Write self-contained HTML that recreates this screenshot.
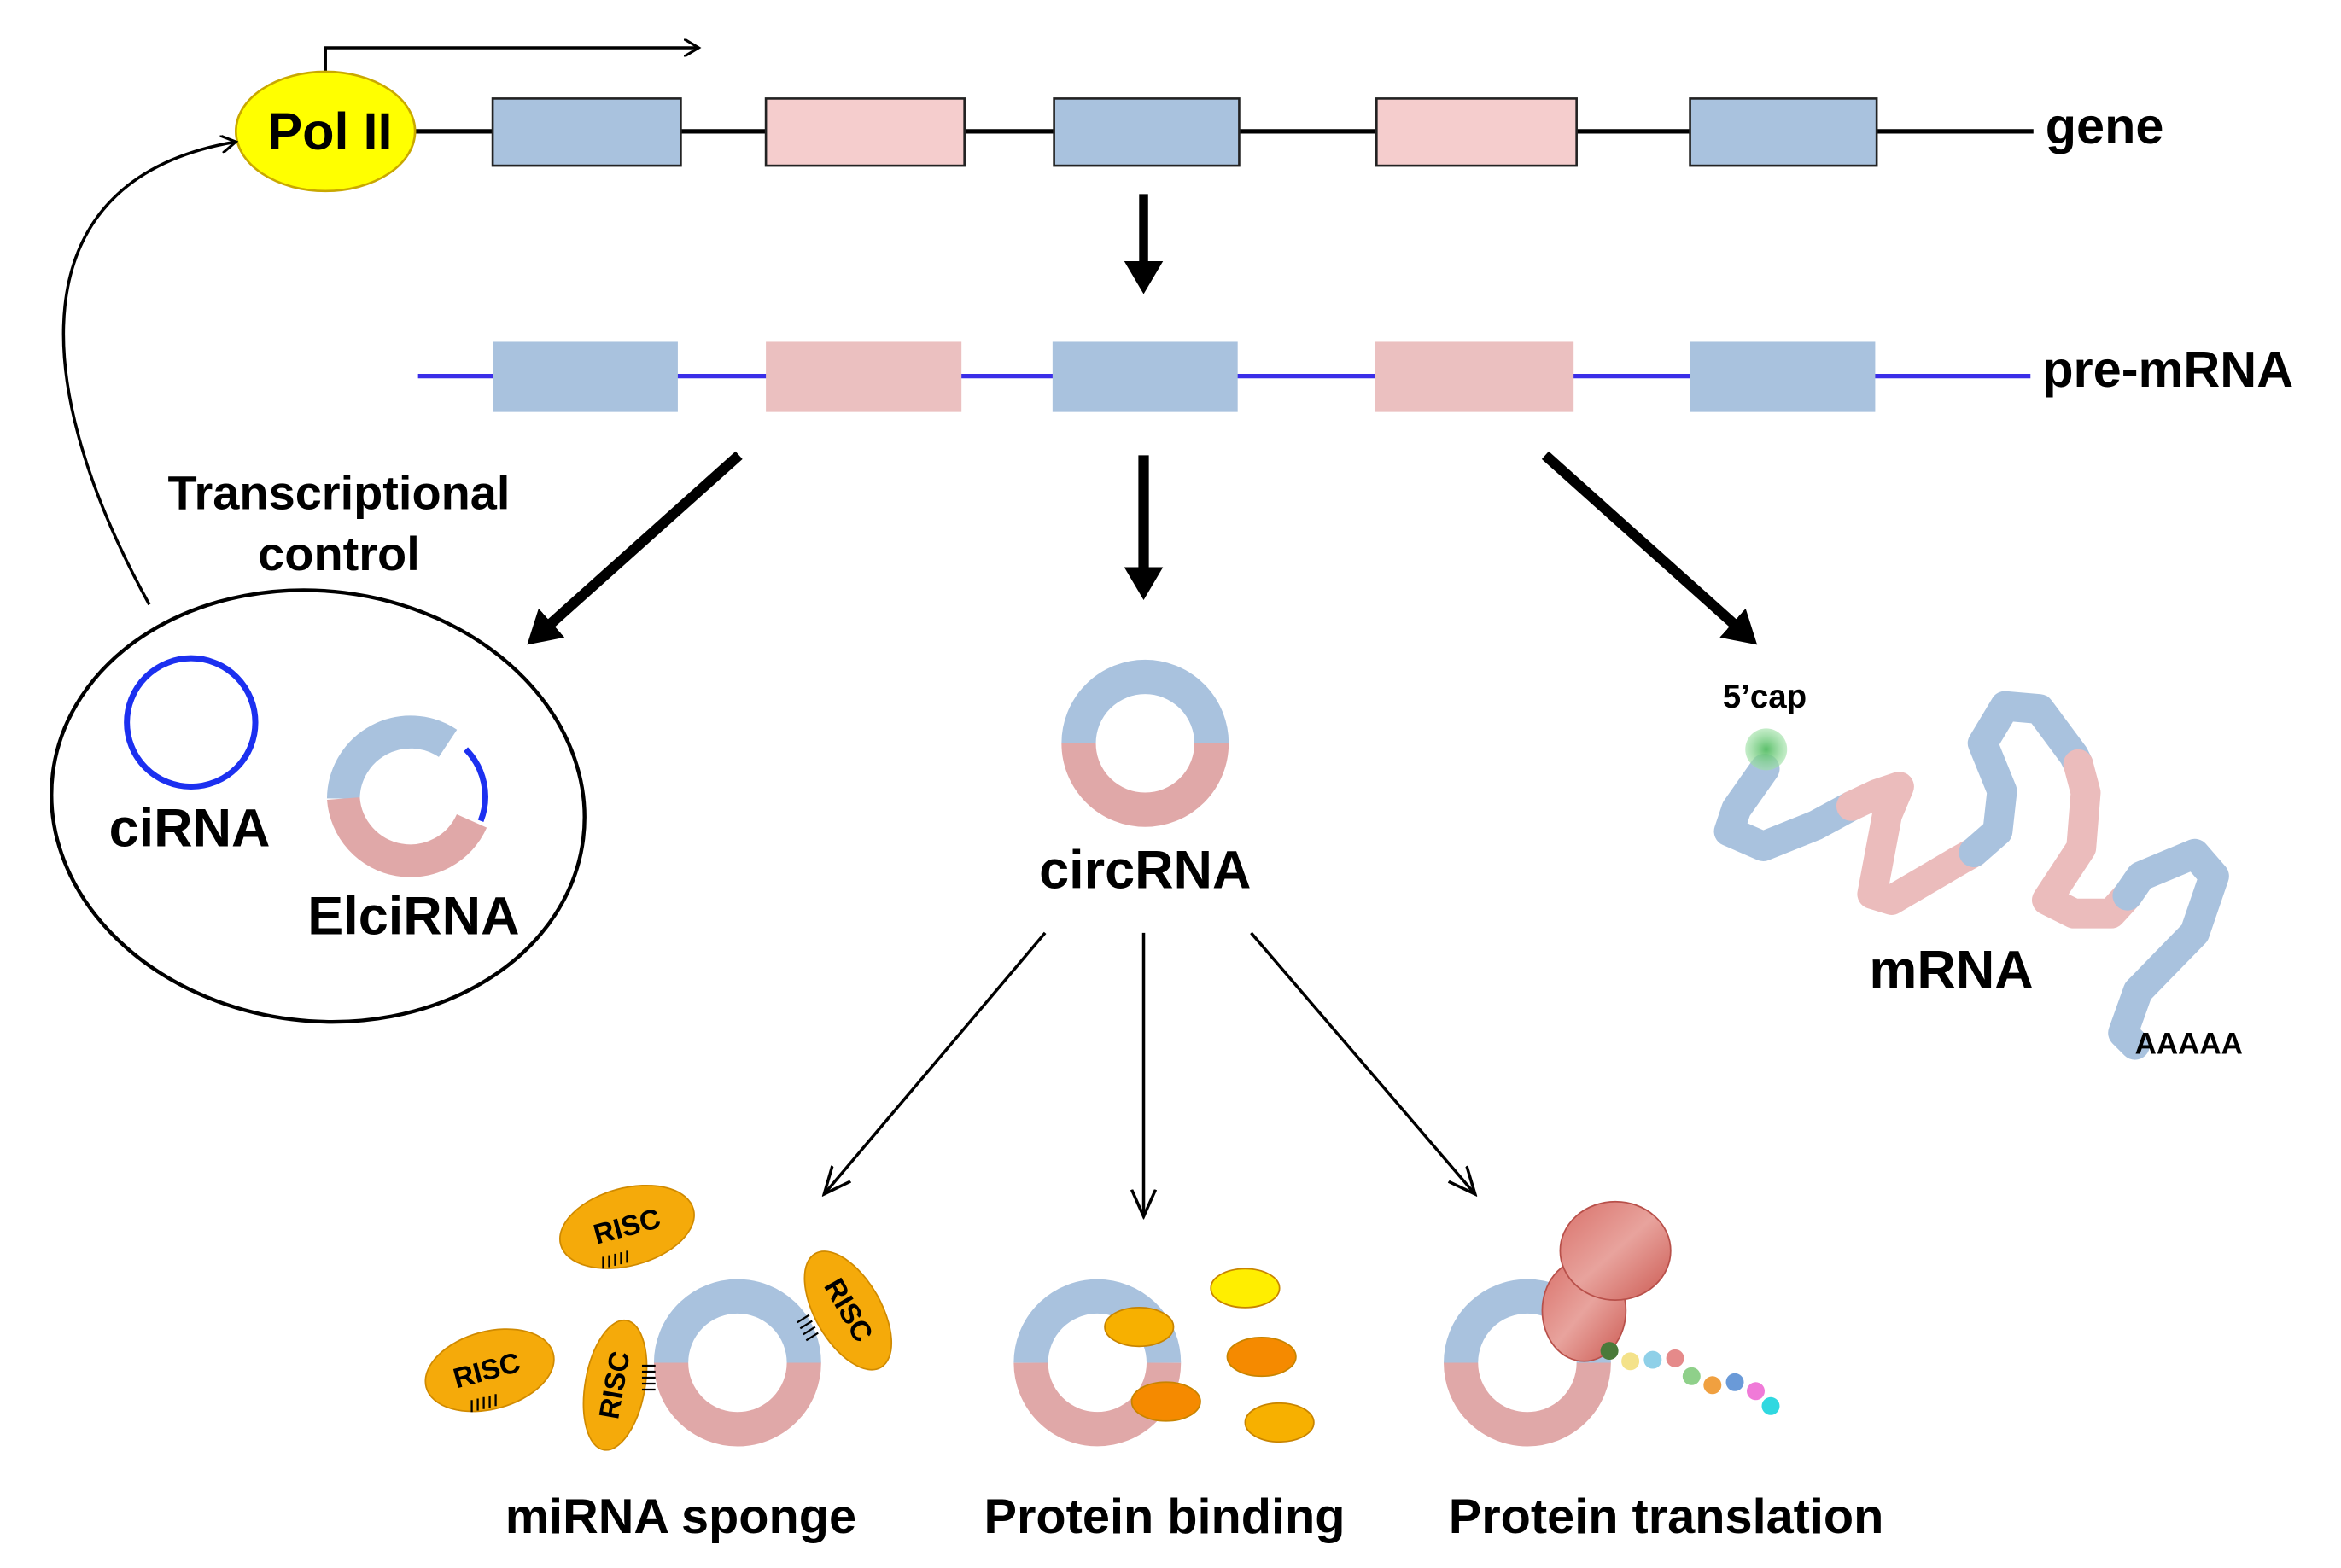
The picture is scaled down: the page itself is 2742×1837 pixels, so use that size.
<!DOCTYPE html>
<html><head><style>html,body{margin:0;padding:0;background:#fff}svg{display:block}</style></head><body>
<svg width="2742" height="1837" viewBox="0 0 1568 1050.5" preserveAspectRatio="none" xmlns="http://www.w3.org/2000/svg" font-family="Liberation Sans, sans-serif" font-weight="bold">
<defs>
<marker id="ah" markerWidth="12" markerHeight="12" refX="10" refY="6" orient="auto" markerUnits="userSpaceOnUse"><path d="M0,0 L10,6 L0,12" fill="none" stroke="#000" stroke-width="1.8"/></marker>
<marker id="th" markerWidth="24" markerHeight="26" refX="10" refY="13" orient="auto" markerUnits="userSpaceOnUse"><path d="M0,0 L22,13 L0,26 Z" fill="#000"/></marker>
<marker id="oh" markerWidth="20" markerHeight="20" refX="18" refY="10" orient="auto" markerUnits="userSpaceOnUse"><path d="M0,2 L18,10 L0,18" fill="none" stroke="#000" stroke-width="2"/></marker>
<radialGradient id="cap"><stop offset="0" stop-color="#5bbf6a"/><stop offset="1" stop-color="#9de0a4" stop-opacity="0.6"/></radialGradient>
<linearGradient id="rib" x1="0" y1="0" x2="1" y2="1"><stop offset="0" stop-color="#d9716a"/><stop offset="0.5" stop-color="#e8a39d"/><stop offset="1" stop-color="#cc5a52"/></linearGradient>
</defs>
<!-- gene -->
<path d="M218,48 V32 H468" fill="none" stroke="#000" stroke-width="2" marker-end="url(#ah)"/>
<line x1="276" y1="88" x2="1362" y2="88" stroke="#000" stroke-width="3"/>
<ellipse cx="218" cy="88" rx="60" ry="40" fill="#ffff00" stroke="#c9a800" stroke-width="1.5"/>
<text x="221" y="100" font-size="35" text-anchor="middle">Pol II</text>
<g stroke="#222" stroke-width="1.5">
<rect x="330" y="66" width="126" height="45" fill="#a9c2de"/>
<rect x="513" y="66" width="133" height="45" fill="#f5cdcd"/>
<rect x="706" y="66" width="124" height="45" fill="#a9c2de"/>
<rect x="922" y="66" width="134" height="45" fill="#f5cdcd"/>
<rect x="1132" y="66" width="125" height="45" fill="#a9c2de"/>
</g>
<text x="1370" y="96" font-size="34">gene</text>
<line x1="766" y1="130" x2="766" y2="185" stroke="#000" stroke-width="6" marker-end="url(#th)"/>
<!-- pre-mRNA -->
<line x1="280" y1="252" x2="1360" y2="252" stroke="#3a2ee8" stroke-width="3"/>
<rect x="330" y="229" width="124" height="47" fill="#a9c2de"/>
<rect x="513" y="229" width="131" height="47" fill="#ebc0c0"/>
<rect x="705" y="229" width="124" height="47" fill="#a9c2de"/>
<rect x="921" y="229" width="133" height="47" fill="#ebc0c0"/>
<rect x="1132" y="229" width="124" height="47" fill="#a9c2de"/>
<text x="1368" y="259" font-size="34">pre-mRNA</text>
<!-- thick arrows -->
<line x1="495" y1="305" x2="362" y2="424" stroke="#000" stroke-width="7" marker-end="url(#th)"/>
<line x1="766" y1="305" x2="766" y2="390" stroke="#000" stroke-width="7" marker-end="url(#th)"/>
<line x1="1035" y1="305" x2="1168" y2="424" stroke="#000" stroke-width="7" marker-end="url(#th)"/>
<!-- transcriptional control -->
<text x="227" y="341" font-size="32" text-anchor="middle">Transcriptional</text>
<text x="227" y="382" font-size="32" text-anchor="middle">control</text>
<path d="M100,405 C20,260 10,120 158,95" fill="none" stroke="#000" stroke-width="2" marker-end="url(#ah)"/>
<ellipse cx="213" cy="540" rx="179" ry="144" transform="rotate(7 213 540)" fill="none" stroke="#000" stroke-width="2.5"/>
<circle cx="128" cy="484" r="43" fill="none" stroke="#1c30f0" stroke-width="4"/>
<text x="127" y="567" font-size="36" text-anchor="middle">ciRNA</text>
<path d="M230,535 A45,45 0 0 1 300,498" fill="none" stroke="#a9c2de" stroke-width="22"/>
<path d="M230,535 A45,45 0 0 0 316,550" fill="none" stroke="#e0a8a8" stroke-width="22"/>
<path d="M312,502 A45,45 0 0 1 322,550" fill="none" stroke="#1c30f0" stroke-width="4"/>
<text x="277" y="626" font-size="36" text-anchor="middle">ElciRNA</text>
<!-- circRNA -->
<path d="M722.5,498 A44.5,44.5 0 0 1 811.5,498" fill="none" stroke="#a9c2de" stroke-width="23"/>
<path d="M811.5,498 A44.5,44.5 0 0 1 722.5,498" fill="none" stroke="#e0a8a8" stroke-width="23"/>
<text x="767" y="595" font-size="36" text-anchor="middle">circRNA</text>
<!-- mRNA -->
<g fill="none" stroke-width="20" stroke-linejoin="round" stroke-linecap="round">
<polyline stroke="#a9c2de" points="1182,515 1163,542 1158,557 1181,567 1216,553 1240,540"/>
<polyline stroke="#ebbcbc" points="1240,540 1257,532 1272,527 1264,546 1254,599 1267,603 1313,576 1322,571"/>
<polyline stroke="#a9c2de" points="1322,571 1338,557 1341,530 1328,498 1343,473 1366,475 1389,506 1392,512"/>
<polyline stroke="#ebbcbc" points="1392,512 1397,531 1394,568 1371,603 1389,612 1414,612 1425,600"/>
<polyline stroke="#a9c2de" points="1425,600 1434,587 1470,572 1483,587 1470,625 1432,664 1422,692 1430,700"/>
</g>
<circle cx="1183" cy="502" r="14" fill="url(#cap)"/>
<text x="1182" y="474" font-size="22" text-anchor="middle">5’cap</text>
<text x="1307" y="662" font-size="36" text-anchor="middle">mRNA</text>
<text x="1430" y="706" font-size="20">AAAAA</text>
<!-- thin arrows -->
<line x1="700" y1="625" x2="552" y2="800" stroke="#000" stroke-width="2" marker-end="url(#oh)"/>
<line x1="766" y1="625" x2="766" y2="815" stroke="#000" stroke-width="2" marker-end="url(#oh)"/>
<line x1="838" y1="625" x2="988" y2="800" stroke="#000" stroke-width="2" marker-end="url(#oh)"/>
<!-- bottom rings -->
<g fill="none" stroke-width="23">
<path d="M449.5,913 A44.5,44.5 0 0 1 538.5,913" stroke="#a9c2de"/><path d="M538.5,913 A44.5,44.5 0 0 1 449.5,913" stroke="#e0a8a8"/>
<path d="M690.5,913 A44.5,44.5 0 0 1 779.5,913" stroke="#a9c2de"/><path d="M779.5,913 A44.5,44.5 0 0 1 690.5,913" stroke="#e0a8a8"/>
<path d="M978.5,913 A44.5,44.5 0 0 1 1067.5,913" stroke="#a9c2de"/><path d="M1067.5,913 A44.5,44.5 0 0 1 978.5,913" stroke="#e0a8a8"/>
</g>
<!-- RISC -->
<g fill="#f5aa0a" stroke="#d08a00" stroke-width="1">
<ellipse cx="420" cy="822" rx="46" ry="26" transform="rotate(-15 420 822)"/>
<ellipse cx="328" cy="918" rx="44" ry="26" transform="rotate(-15 328 918)"/>
<ellipse cx="412" cy="928" rx="44" ry="20" transform="rotate(-80 412 928)"/>
<ellipse cx="568" cy="878" rx="44" ry="22" transform="rotate(60 568 878)"/>
</g>
<g font-size="19" text-anchor="middle" fill="#000">
<text x="420" y="828" transform="rotate(-15 420 822)">RISC</text>
<text x="326" y="924" transform="rotate(-15 328 918)">RISC</text>
<text x="412" y="934" transform="rotate(-80 412 928)">RISC</text>
<text x="568" y="884" transform="rotate(60 568 878)">RISC</text>
</g>
<g stroke="#000" stroke-width="1.3">
<path d="M404,842 v8 M408,841 v8 M412,840 v8 M416,839 v8 M420,838 v8"/>
<path d="M316,938 v8 M320,937 v8 M324,936 v8 M328,935 v8 M332,934 v8"/>
<path d="M430,915 h9 M430,919 h9 M430,923 h9 M430,927 h9 M430,931 h9"/>
<path d="M534,886 l8,-5 M536,890 l8,-5 M538,894 l8,-5 M540,898 l8,-5"/>
</g>
<!-- protein binding -->
<g stroke="#c88400" stroke-width="1">
<ellipse cx="834" cy="863" rx="23" ry="13" fill="#ffee00"/>
<ellipse cx="763" cy="889" rx="23" ry="13" fill="#f7b000"/>
<ellipse cx="845" cy="909" rx="23" ry="13" fill="#f58a00"/>
<ellipse cx="781" cy="939" rx="23" ry="13" fill="#f58a00"/>
<ellipse cx="857" cy="953" rx="23" ry="13" fill="#f7b000"/>
</g>
<!-- translation -->
<ellipse cx="1061" cy="878" rx="28" ry="34" fill="url(#rib)" stroke="#b8504a"/>
<ellipse cx="1082" cy="838" rx="37" ry="33" fill="url(#rib)" stroke="#b8504a"/>
<circle cx="1078" cy="905" r="6" fill="#4a7a3a"/>
<circle cx="1092" cy="912" r="6" fill="#f4e28a"/>
<circle cx="1107" cy="911" r="6" fill="#8fd0e8"/>
<circle cx="1122" cy="910" r="6" fill="#e58a8a"/>
<circle cx="1133" cy="922" r="6" fill="#8fd08a"/>
<circle cx="1147" cy="928" r="6" fill="#f0a040"/>
<circle cx="1162" cy="926" r="6" fill="#6a9ad8"/>
<circle cx="1176" cy="932" r="6" fill="#f07ad8"/>
<circle cx="1186" cy="942" r="6" fill="#30d8e0"/>
<!-- labels -->
<text x="456" y="1027" font-size="33" text-anchor="middle">miRNA sponge</text>
<text x="780" y="1027" font-size="33" text-anchor="middle">Protein binding</text>
<text x="1116" y="1027" font-size="33" text-anchor="middle">Protein translation</text>
</svg>
</body></html>
